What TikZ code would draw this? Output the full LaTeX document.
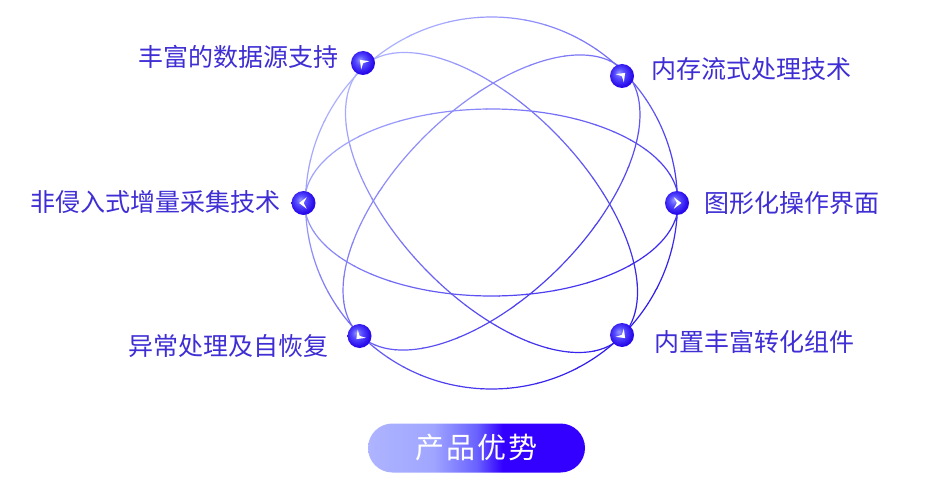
\documentclass[tikz,border=0pt]{standalone}
\usepackage{fontspec}
\newfontfamily\cjk{Noto Sans CJK SC}
\definecolor{lineL}{RGB}{172,176,255}
\definecolor{lineD}{RGB}{48,28,235}
\definecolor{txt}{RGB}{62,46,212}
\definecolor{ballL}{RGB}{150,150,255}
\definecolor{ballM}{RGB}{88,78,255}
\definecolor{ballD}{RGB}{40,10,235}
\definecolor{pillL}{RGB}{174,180,255}
\definecolor{pillLL}{RGB}{160,166,255}
\definecolor{pillM}{RGB}{106,98,255}
\definecolor{pillD}{RGB}{51,0,255}
\pgfdeclareradialshading{bulletshade}{\pgfpoint{-7bp}{7bp}}{color(0bp)=(ballL); color(10bp)=(ballM); color(25bp)=(ballD); color(50bp)=(ballD)}
\pgfdeclarehorizontalshading{pillshade}{100bp}{color(0bp)=(pillL); color(25bp)=(pillL); color(40bp)=(pillLL); color(50bp)=(pillM); color(56bp)=(pillD); color(100bp)=(pillD)}
\newcommand\allcurves{%
  \draw[curveline] (491.5,203) circle [radius=186];
  \draw[curveline] (491.5,202.5) ellipse [x radius=187, y radius=93.5];
  \draw[curveline, rotate around={-46.3:(491.5,202.5)}] (491.5,202.5) ellipse [x radius=187, y radius=94];
  \draw[curveline, rotate around={44.7:(491.5,202.5)}] (491.5,202.5) ellipse [x radius=187, y radius=94];
}
\tikzset{
  curveline/.style={draw=cur, line width=1.2pt},
  ball/.style={circle, minimum size=24pt, inner sep=0pt, shade, shading=bulletshade},
  chevron/.style={fill=white},
  lab/.style={font=\cjk\fontsize{25}{30}\selectfont, text=txt, inner sep=0pt},
  pill/.style={rectangle, minimum width=217pt, minimum height=49pt, rounded corners=24.5pt,
    inner sep=0pt, shade, shading=pillshade, text=white, font=\cjk\fontsize{29}{34}\selectfont}
}
\begin{document}
\begin{tikzpicture}[x=1pt, y=-1pt]
\useasboundingbox (0,0) rectangle (947,489);
\fill[white] (0,0) rectangle (947,489);
% gradient-coloured curves, drawn in diagonal strips
\foreach \i in {0,...,21} {
  \pgfmathsetmacro\sa{420+25*\i}
  \pgfmathsetmacro\sb{\sa+25.8}
  \pgfmathtruncatemacro\pc{100*\i/21}
  \colorlet{cur}{lineD!\pc!lineL}
  \begin{scope}
    \clip (\sa+100,-100) -- (\sb+100,-100) -- (\sb-700,700) -- (\sa-700,700) -- cycle;
    \allcurves
  \end{scope}
}
% bullets
\node[ball] (tl) at (363,63) {};
\node[ball] (tr) at (622,76) {};
\node[ball] (l)  at (303.5,203) {};
\node[ball] (r)  at (677,203) {};
\node[ball] (bl) at (359.5,336) {};
\node[ball] (br) at (622,335) {};
\foreach \n/\a in {tl/135, tr/45, l/180, r/0, bl/225, br/-45} {
  \fill[chevron, shift={(\n.center)}, rotate=\a]
    (4.4,0) -- (-3.2,-5.8) -- (-0.2,0) -- (-3.2,5.8) -- cycle;
}
% labels
\node[lab, anchor=east] (t1) at (339,57)  {丰富的数据源支持};
\node[lab, anchor=west] (t2) at (651,69)  {内存流式处理技术};
\node[lab, anchor=east] (t3) at (281,202) {非侵入式增量采集技术};
\node[lab, anchor=west] (t4) at (704,203) {图形化操作界面};
\node[lab, anchor=east] (t5) at (329,346) {异常处理及自恢复};
\node[lab, anchor=west] (t6) at (654,342) {内置丰富转化组件};
% button
\node[pill] (p) at (476.5,448) {产\hspace{2pt}品\hspace{2pt}优\hspace{2pt}势};
\end{tikzpicture}
\end{document}
